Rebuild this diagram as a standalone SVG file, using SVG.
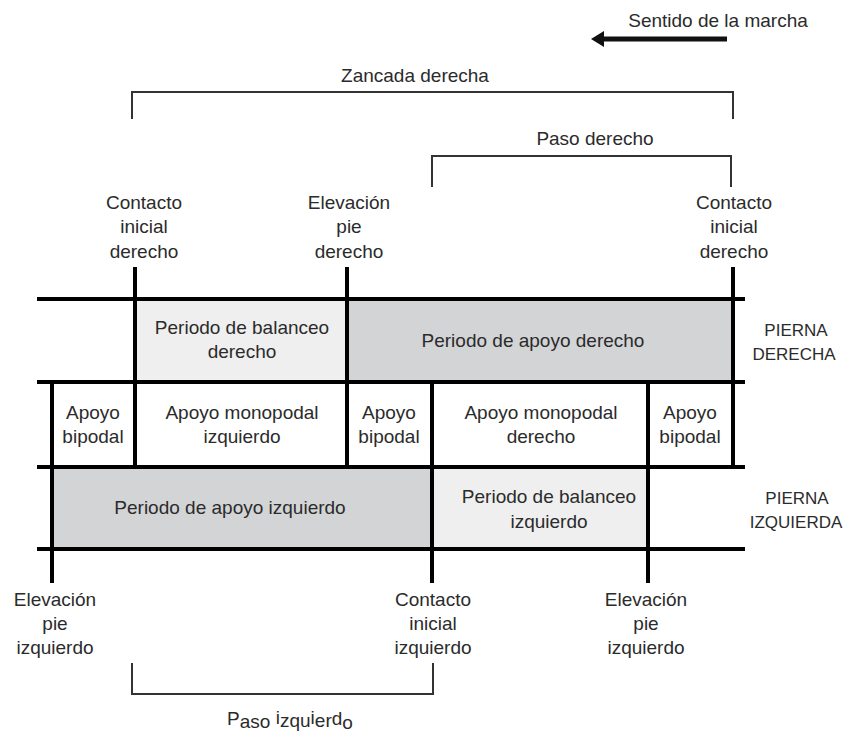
<svg xmlns="http://www.w3.org/2000/svg" width="848" height="735" viewBox="0 0 848 735">
  <style>
    text { font-family: "Liberation Sans", Arial, sans-serif; font-size: 19px; fill: #2b2b2b; text-anchor: middle; }
    .caps { font-size: 17px; }
    .grid { stroke: #000; stroke-width: 4; fill: none; }
    .brk { stroke: #333; stroke-width: 2; fill: none; }
    .light { fill: #efefef; }
    .dark { fill: #d3d4d6; }
  </style>
  <rect width="848" height="735" fill="#fff"/>

  <!-- direction of travel -->
  <g id="direction">
    <text x="718" y="27">Sentido de la marcha</text>
    <line x1="727" y1="39" x2="600" y2="39" stroke="#111" stroke-width="5"/>
    <polygon points="591,39 604,31 604,47" fill="#111"/>
  </g>

  <!-- brackets -->
  <g id="zancada-derecha">
    <polyline class="brk" points="132,119 132,92 733,92 733,119"/>
    <text x="415" y="82">Zancada derecha</text>
  </g>
  <g id="paso-derecho">
    <polyline class="brk" points="432,187 432,156 731,156 731,187"/>
    <text x="595" y="145">Paso derecho</text>
  </g>
  <g id="paso-izquierdo">
    <polyline class="brk" points="132,663 132,694 433,694 433,663"/>
    <text x="290" y="727"><tspan dy="-2">P</tspan><tspan dy="3">aso </tspan><tspan dy="-4">i</tspan><tspan dy="3">zqu</tspan><tspan dy="-3">i</tspan><tspan dy="3">er</tspan><tspan dy="-2">d</tspan><tspan dy="4">o</tspan></text>
  </g>

  <!-- cell fills -->
  <g id="fills">
    <rect class="light" x="135" y="299" width="212" height="83"/>
    <rect class="dark" x="347" y="299" width="386" height="83"/>
    <rect class="dark" x="52" y="467" width="380" height="82"/>
    <rect class="light" x="432" y="467" width="216" height="82"/>
  </g>

  <!-- grid lines -->
  <g id="connectors">
    <line class="grid" x1="37" y1="299" x2="745" y2="299"/>
    <line class="grid" x1="37" y1="382" x2="745" y2="382"/>
    <line class="grid" x1="37" y1="467" x2="745" y2="467"/>
    <line class="grid" x1="37" y1="549" x2="745" y2="549"/>
    <line class="grid" x1="135" y1="267" x2="135" y2="467"/>
    <line class="grid" x1="347" y1="267" x2="347" y2="467"/>
    <line class="grid" x1="733" y1="267" x2="733" y2="467"/>
    <line class="grid" x1="52" y1="382" x2="52" y2="583"/>
    <line class="grid" x1="432" y1="382" x2="432" y2="583"/>
    <line class="grid" x1="648" y1="382" x2="648" y2="583"/>
  </g>

  <!-- event labels, right leg -->
  <g id="contacto-inicial-derecho-1">
    <text x="144" y="209">Contacto</text>
    <text x="144" y="233">inicial</text>
    <text x="144" y="258">derecho</text>
  </g>
  <g id="elevacion-pie-derecho">
    <text x="349" y="209">Elevación</text>
    <text x="349" y="233">pie</text>
    <text x="349" y="258">derecho</text>
  </g>
  <g id="contacto-inicial-derecho-2">
    <text x="734" y="209">Contacto</text>
    <text x="734" y="233">inicial</text>
    <text x="734" y="258">derecho</text>
  </g>

  <!-- row 1: right leg -->
  <g id="balanceo-derecho">
    <text x="242" y="334">Periodo de balanceo</text>
    <text x="242" y="358">derecho</text>
  </g>
  <g id="apoyo-derecho">
    <text x="533" y="347">Periodo de apoyo derecho</text>
  </g>
  <g id="pierna-derecha">
    <text class="caps" x="796" y="336">PIERNA</text>
    <text class="caps" x="794" y="360">DERECHA</text>
  </g>

  <!-- row 2: support phases -->
  <g id="bipodal-1">
    <text x="93" y="419">Apoyo</text>
    <text x="93" y="443">bipodal</text>
  </g>
  <g id="monopodal-izquierdo">
    <text x="242" y="419">Apoyo monopodal</text>
    <text x="242" y="443">izquierdo</text>
  </g>
  <g id="bipodal-2">
    <text x="389" y="419">Apoyo</text>
    <text x="389" y="443">bipodal</text>
  </g>
  <g id="monopodal-derecho">
    <text x="541" y="419">Apoyo monopodal</text>
    <text x="541" y="443">derecho</text>
  </g>
  <g id="bipodal-3">
    <text x="690" y="419">Apoyo</text>
    <text x="690" y="443">bipodal</text>
  </g>

  <!-- row 3: left leg -->
  <g id="apoyo-izquierdo">
    <text x="230" y="514">Periodo de apoyo izquierdo</text>
  </g>
  <g id="balanceo-izquierdo">
    <text x="549" y="503">Periodo de balanceo</text>
    <text x="549" y="528">izquierdo</text>
  </g>
  <g id="pierna-izquierda">
    <text class="caps" x="797" y="504">PIERNA</text>
    <text class="caps" x="796" y="528">IZQUIERDA</text>
  </g>

  <!-- event labels, left leg -->
  <g id="elevacion-pie-izquierdo-1">
    <text x="55" y="606">Elevación</text>
    <text x="55" y="630">pie</text>
    <text x="55" y="654">izquierdo</text>
  </g>
  <g id="contacto-inicial-izquierdo">
    <text x="433" y="606">Contacto</text>
    <text x="433" y="630">inicial</text>
    <text x="433" y="654">izquierdo</text>
  </g>
  <g id="elevacion-pie-izquierdo-2">
    <text x="646" y="606">Elevación</text>
    <text x="646" y="630">pie</text>
    <text x="646" y="654">izquierdo</text>
  </g>
</svg>
